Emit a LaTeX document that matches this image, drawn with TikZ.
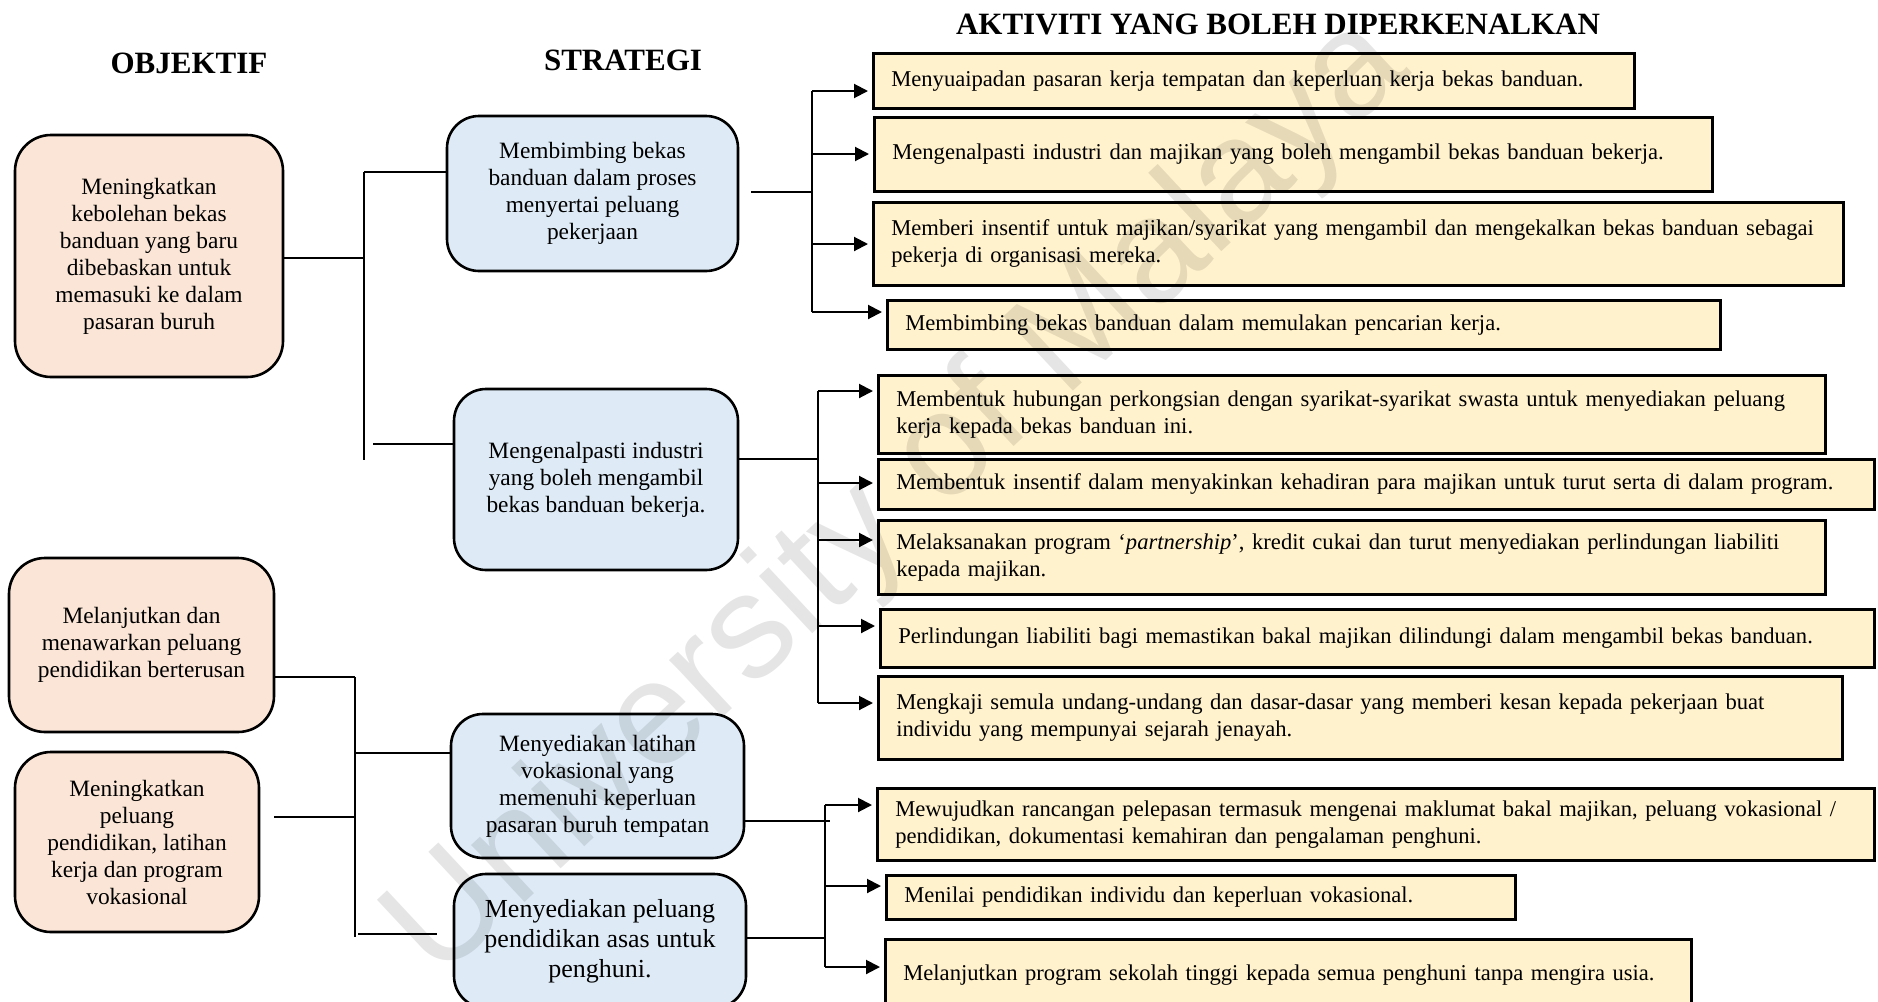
\documentclass[tikz,border=0pt]{standalone}
\usepackage{fontspec}
\setmainfont{Liberation Serif}
\newfontfamily\wmfont{Liberation Sans}
\usetikzlibrary{arrows.meta,positioning,calc}
\definecolor{objfill}{HTML}{FBE5D6}
\definecolor{stratfill}{HTML}{DEEBF7}
\definecolor{actfill}{HTML}{FFF2CC}
\hyphenpenalty=10000
\begin{document}
\begin{tikzpicture}[x=0.5pt,y=-0.5pt,>={Triangle[length=7pt,width=7pt]},
txt/.style={font=\fontsize{11.7}{13.5}\selectfont},
head/.style={font=\fontsize{15.5}{18}\selectfont\bfseries},
objbox/.style 2 args={draw,line width=1.3pt,rounded corners=18pt,fill=objfill,align=center,txt,minimum width=#1,minimum height=#2},
stratbox/.style 2 args={draw,line width=1.3pt,rounded corners=16pt,fill=stratfill,align=center,txt,minimum width=#1,minimum height=#2},
actbox/.style 2 args={draw,line width=1.3pt,fill=actfill,align=left,font=\fontsize{11.3}{13.5}\selectfont,anchor=north west,inner xsep=9pt,text width=#1,minimum height=#2},
link/.style={line width=1pt},
arr/.style={line width=1pt,->,shorten >=2pt}]
\useasboundingbox (0,0) rectangle (1878,1001);
\clip (0,0) rectangle (1878,1001);
\node[head] (hobj) at (189,63) {OBJEKTIF};
\node[head] (hstr) at (623,60) {STRATEGI};
\node[head] (hact) at (1278,24) {AKTIVITI YANG BOLEH DIPERKENALKAN};
\node[objbox={134pt}{121pt}] (o1) at (149,256) {Meningkatkan\\kebolehan bekas\\banduan yang baru\\dibebaskan untuk\\memasuki ke dalam\\pasaran buruh};
\node[objbox={132.5pt}{87pt}] (o2) at (141.5,645) {Melanjutkan dan\\menawarkan peluang\\pendidikan berterusan};
\node[objbox={122pt}{90pt}] (o3) at (137,842) {Meningkatkan\\peluang\\pendidikan, latihan\\kerja dan program\\vokasional};
\node[stratbox={145.5pt}{77.5pt}] (s1) at (592.5,193.5) {Membimbing bekas\\banduan dalam proses\\menyertai peluang\\pekerjaan};
\node[stratbox={142pt}{90.5pt}] (s2) at (596,479.5) {Mengenalpasti industri\\yang boleh mengambil\\bekas banduan bekerja.};
\node[stratbox={146.5pt}{72pt}] (s3) at (597.5,786) {Menyediakan latihan\\vokasional yang\\memenuhi keperluan\\pasaran buruh tempatan};
\node[stratbox={146pt}{67pt},font=\fontsize{13}{15}\selectfont] (s4) at (600,941) {Menyediakan peluang\\pendidikan asas untuk\\penghuni.};
\node[actbox={362.5pt}{27.5pt}] (b1) at (872,52) {Menyuaipadan pasaran kerja tempatan dan keperluan kerja bekas banduan.};
\node[actbox={401pt}{37pt}] (b2) at (873,116) {Mengenalpasti industri dan majikan yang boleh mengambil bekas banduan bekerja.};
\node[actbox={467pt}{41.5pt}] (b3) at (872,201) {Memberi insentif untuk majikan/syarikat yang mengambil dan mengekalkan bekas banduan sebagai\\pekerja di organisasi mereka.};
\node[actbox={398.5pt}{24.5pt}] (b4) at (886,299) {Membimbing bekas banduan dalam memulakan pencarian kerja.};
\node[actbox={455.5pt}{39pt}] (c1) at (877,374) {Membentuk hubungan perkongsian dengan syarikat-syarikat swasta untuk menyediakan peluang\\kerja kepada bekas banduan ini.};
\node[actbox={480pt}{25pt}] (c2) at (877,458) {Membentuk insentif dalam menyakinkan kehadiran para majikan untuk turut serta di dalam program.};
\node[actbox={455.5pt}{37pt}] (c3) at (877,519) {Melaksanakan program ‘\textit{partnership}’, kredit cukai dan turut menyediakan perlindungan liabiliti\\kepada majikan.};
\node[actbox={479pt}{29pt}] (c4) at (879,608) {Perlindungan liabiliti bagi memastikan bakal majikan dilindungi dalam mengambil bekas banduan.};
\node[actbox={464pt}{41.5pt}] (c5) at (877,675) {Mengkaji semula undang-undang dan dasar-dasar yang memberi kesan kepada pekerjaan buat\\individu yang mempunyai sejarah jenayah.};
\node[actbox={480.5pt}{36pt}] (d1) at (876,787) {Mewujudkan rancangan pelepasan termasuk mengenai maklumat bakal majikan, peluang vokasional /\\pendidikan, dokumentasi kemahiran dan pengalaman penghuni.};
\node[actbox={296.5pt}{22pt}] (d2) at (885,874) {Menilai pendidikan individu dan keperluan vokasional.};
\node[actbox={385pt}{36pt}] (d3) at (884,938) {Melanjutkan program sekolah tinggi kepada semua penghuni tanpa mengira usia.};
\coordinate (ou) at (364,258); \coordinate (ut) at (364,172); \coordinate (ub) at (364,460); \coordinate (um) at (364,444);
\draw[link] (o1.east |- ou) -- (ou); \draw[link] (ut) -- (ub); \draw[link] (ut) -- (ut -| s1.west); \draw[link] ([xshift=4.5pt]um) -- (um -| s2.west);
\coordinate (lt) at (355,677); \coordinate (lb) at (355,937); \coordinate (lo) at (355,817); \coordinate (lm) at (355,753); \coordinate (ln) at (355,934);
\draw[link] (o2.east |- lt) -- (lt); \draw[link] ([xshift=7pt]o3.east |- lo) -- (lo); \draw[link] (lt) -- (lb); \draw[link] (lm) -- (lm -| s3.west); \draw[link] ([xshift=1.5pt]ln) -- ([xshift=-8pt]ln -| s4.west);
\coordinate (ra) at (812,192); \coordinate (ra1) at (812,91); \coordinate (ra2) at (812,154); \coordinate (ra3) at (812,244); \coordinate (ra4) at (812,312);
\draw[link] ([xshift=6pt]s1.east |- ra) -- (ra); \draw[link] (ra1) -- (ra4);
\draw[arr] (ra1) -- (ra1 -| b1.west); \draw[arr] (ra2) -- (ra2 -| b2.west); \draw[arr] (ra3) -- (ra3 -| b3.west); \draw[arr] (ra4) -- (ra4 -| b4.west);
\coordinate (rb) at (818,459); \coordinate (rb1) at (818,391); \coordinate (rb2) at (818,483); \coordinate (rb3) at (818,540); \coordinate (rb4) at (818,626); \coordinate (rb5) at (818,703);
\draw[link] (s2.east |- rb) -- (rb); \draw[link] (rb1) -- (rb5);
\draw[arr] (rb1) -- (rb1 -| c1.west); \draw[arr] (rb2) -- (rb2 -| c2.west); \draw[arr] (rb3) -- (rb3 -| c3.west); \draw[arr] (rb4) -- (rb4 -| c4.west); \draw[arr] (rb5) -- (rb5 -| c5.west);
\coordinate (rc) at (825,821); \coordinate (rd) at (825,938); \coordinate (rc1) at (825,805); \coordinate (rc2) at (825,886); \coordinate (rc3) at (825,967);
\draw[link] (s3.east |- rc) -- ([xshift=2.5pt]rc); \draw[link] (s4.east |- rd) -- (rd); \draw[link] (rc1) -- (rc3);
\draw[arr] (rc1) -- (rc1 -| d1.west); \draw[arr] (rc2) -- (rc2 -| d2.west); \draw[arr] (rc3) -- (rc3 -| d3.west);
\node[rotate=43,font=\wmfont\fontsize{74}{80}\selectfont,text=black,opacity=0.1] (wm) at (900,500) {University of Malaya};
\end{tikzpicture}
\end{document}
